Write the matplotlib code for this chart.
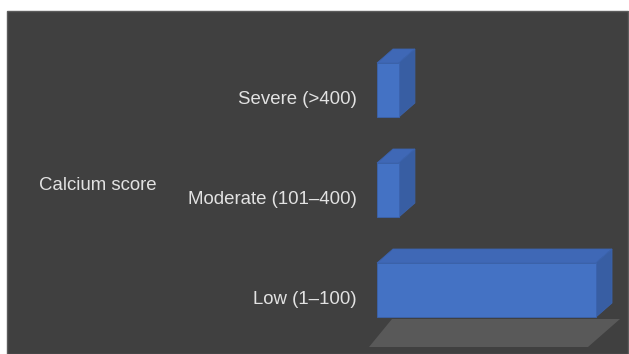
import numpy as np
import matplotlib
matplotlib.use("Agg")
import matplotlib.pyplot as plt
from matplotlib.patches import Polygon, Rectangle

plt.rcParams['font.family'] = ['Liberation Sans', 'DejaVu Sans']

#Data:-------------------------------------------------------------------------

categories = ["Low (1\u2013100)", "Moderate (101\u2013400)", "Severe (>400)"]
counts = [10, 1, 1]
axis_max = 10
axis_title = "Calcium score"

#Colours:----------------------------------------------------------------------

front_col = "#4472C4"
top_col = "#3f68b6"
side_col = "#385ea3"
floor_col = "#595959"
bg_col = "#404040"
text_col = "#e2e2e2"

#Figure:-----------------------------------------------------------------------

W, H = 629, 354
fig = plt.figure(figsize=(W/100, H/100), dpi=100, facecolor="white")

ax = fig.add_axes([0, 0, 1, 1])
ax.set_axis_off()

# dark plot background, slightly inset from the top and left
ax.add_patch(Rectangle((7/W, 0), (628-7)/W, (H-11)/H,
                       transform=fig.transFigure, facecolor=bg_col,
                       edgecolor="#5c5c5c", lw=1, zorder=0, clip_on=False))

px_x = 21.9      # pixels per unit of count
px_y = 100.0     # pixels per category step
x0_px = 377
y0_px = 64       # Low bar centre, from bottom
ax.set_xlim(-x0_px/px_x, (W-x0_px)/px_x)
ax.set_ylim(-y0_px/px_y, (H-y0_px)/px_y)

bar_h = 0.54
dx = 16/px_x
dy = 14/px_y
ypos = np.arange(len(categories))

#Floor:------------------------------------------------------------------------

fy_top = ypos[0] - bar_h/2 - 0.02
fy_bot = fy_top - 0.28
ax.add_patch(Polygon([(-8/px_x, fy_bot), (axis_max-8/px_x, fy_bot),
                      (axis_max+24/px_x, fy_top), (15/px_x, fy_top)],
                     closed=True, facecolor=floor_col, edgecolor="none",
                     zorder=1))

#3D bars:----------------------------------------------------------------------

ax.barh(ypos, counts, height=bar_h, color=front_col, edgecolor="#3b63ad",
        lw=0.6, zorder=3)
for y, v in zip(ypos, counts):
    top = y + bar_h/2
    bot = y - bar_h/2
    ax.add_patch(Polygon([(0, top), (v, top), (v+dx, top+dy), (dx, top+dy)],
                         closed=True, facecolor=top_col, edgecolor="#3b63ad",
                         lw=0.6, zorder=2))
    ax.add_patch(Polygon([(v, bot), (v+dx, bot+dy), (v+dx, top+dy), (v, top)],
                         closed=True, facecolor=side_col, edgecolor="#3b63ad",
                         lw=0.6, zorder=2))

#Labels:-----------------------------------------------------------------------

for y, lab in zip(ypos, categories):
    ax.text(-20/px_x, y - 0.095, lab, ha="right", va="center",
            fontsize=13.4, color=text_col, zorder=4)

ax.text((39-x0_px)/px_x, ypos[1] + 0.04, axis_title, ha="left", va="center",
        fontsize=13.4, color=text_col, zorder=4)

fig.savefig("out.png", dpi=100, facecolor=fig.get_facecolor())
